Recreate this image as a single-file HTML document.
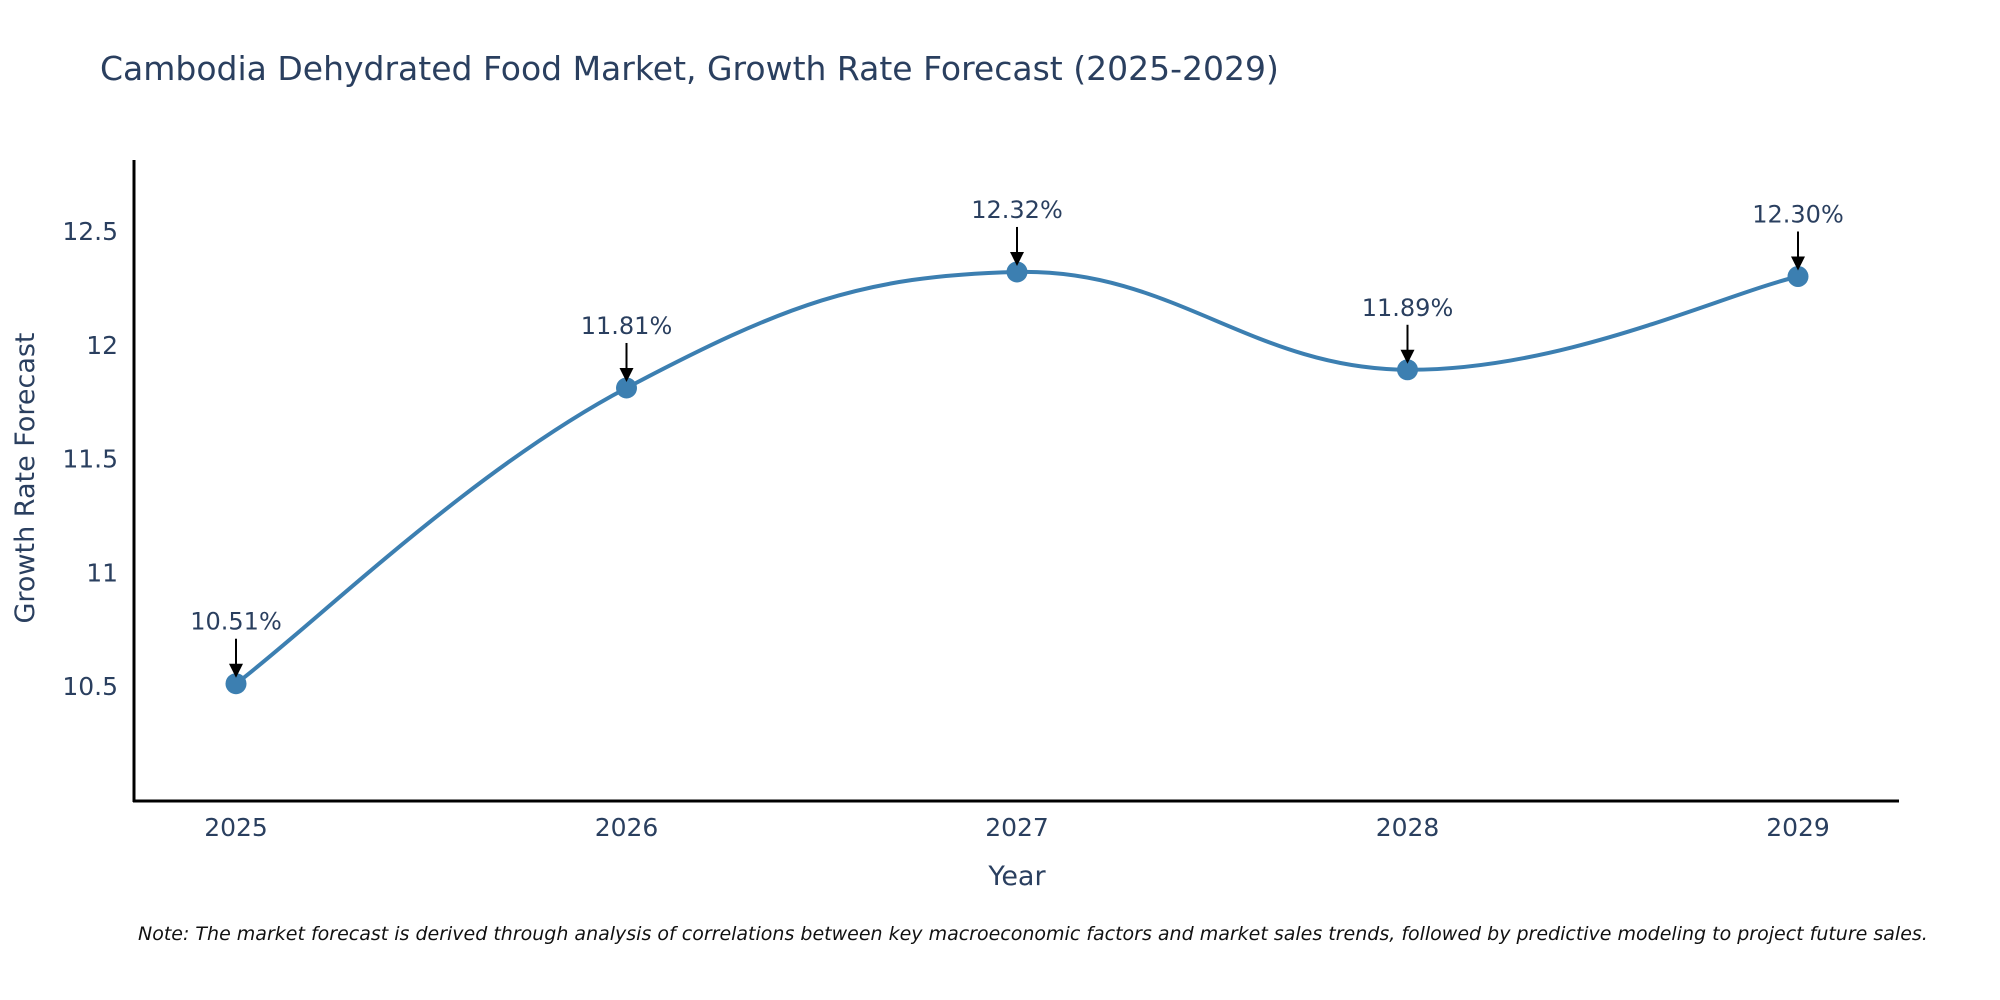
<!DOCTYPE html>
<html><head><meta charset="utf-8"><style>
body{margin:0;background:#fff;}
svg{display:block;font-family:"DejaVu Sans","Liberation Sans",sans-serif;}
</style></head><body>
<svg id="chart" width="2000" height="1000">
<text x="100" y="80" font-size="33" fill="#2a3f5f">Cambodia Dehydrated Food Market, Growth Rate Forecast (2025-2029)</text>
<line x1="134" y1="160" x2="134" y2="802" stroke="#000" stroke-width="3"/>
<line x1="133" y1="801" x2="1899" y2="801" stroke="#000" stroke-width="3"/>
<g id="yticks"></g><g id="xticks"></g>
<text transform="translate(34,478) rotate(-90)" text-anchor="middle" font-size="27" fill="#2a3f5f">Growth Rate Forecast</text>
<text x="1017" y="885" text-anchor="middle" font-size="27" fill="#2a3f5f">Year</text>
<g id="series"></g>
<text x="138" y="940" font-size="19" font-style="italic" fill="#111">Note: The market forecast is derived through analysis of correlations between key macroeconomic factors and market sales trends, followed by predictive modeling to project future sales.</text>
</svg>
<script>
const years = [2025, 2026, 2027, 2028, 2029];
const growth = [10.51, 11.81, 12.32, 11.89, 12.30];
const labels = ["10.51%", "11.81%", "12.32%", "11.89%", "12.30%"];
const yTicks = [10.5, 11, 11.5, 12, 12.5];
const yTickLabels = ["10.5", "11", "11.5", "12", "12.5"];

const NS = "http://www.w3.org/2000/svg";
const xs = v => 236 + (v - 2025) * (1798 - 236) / 4;
const ys = v => 686 - (v - 10.5) * (686 - 231) / 2;
function mk(tag, attrs, parent) {
  const e = document.createElementNS(NS, tag);
  for (const k in attrs) e.setAttribute(k, attrs[k]);
  parent.appendChild(e); return e;
}
const yg = document.getElementById('yticks');
yTicks.forEach((t, i) => {
  const e = mk('text', {x: 118, y: ys(t) + 9, 'text-anchor': 'end', 'font-size': 25, fill: '#2a3f5f'}, yg);
  
  
  e.textContent = yTickLabels[i];
});
const xg = document.getElementById('xticks');
years.forEach(y => {
  const e = mk('text', {x: xs(y), y: 836, 'text-anchor': 'middle', 'font-size': 25, fill: '#2a3f5f'}, xg);
  
  
  e.textContent = String(y);
});
const sg = document.getElementById('series');
const P = years.map((y, i) => [xs(y), ys(growth[i])]);
let d = `M${P[0][0]},${P[0][1]}`;
const s = 0.2;
for (let i = 0; i < P.length - 1; i++) {
  const p0 = P[Math.max(i - 1, 0)], p1 = P[i], p2 = P[i + 1], p3 = P[Math.min(i + 2, P.length - 1)];
  const c1 = [p1[0] + (p2[0] - p0[0]) * s, p1[1] + (p2[1] - p0[1]) * s];
  const c2 = [p2[0] - (p3[0] - p1[0]) * s, p2[1] - (p3[1] - p1[1]) * s];
  d += ` C${c1[0]},${c1[1]} ${c2[0]},${c2[1]} ${p2[0]},${p2[1]}`;
}
const line = mk('path', {d: d, fill: 'none', stroke: '#3c7fb1', 'stroke-width': 4}, sg);


P.forEach((p, i) => {
  const c = mk('circle', {cx: p[0], cy: p[1], r: 10.5, fill: '#3c7fb1'}, sg);
  
  
  const a = mk('line', {x1: p[0], y1: p[1] - 45, x2: p[0], y2: p[1] - 18, stroke: '#000', 'stroke-width': 2}, sg);
  
  
  const h = mk('polygon', {points: `${p[0]-7},${p[1]-20} ${p[0]+7},${p[1]-20} ${p[0]},${p[1]-6}`, fill: '#000'}, sg);
  
  
  const t = mk('text', {x: p[0], y: p[1] - 54, 'text-anchor': 'middle', 'font-size': 24, fill: '#2a3f5f'}, sg);
  
  
  t.textContent = labels[i];
});
</script>
</body></html>
